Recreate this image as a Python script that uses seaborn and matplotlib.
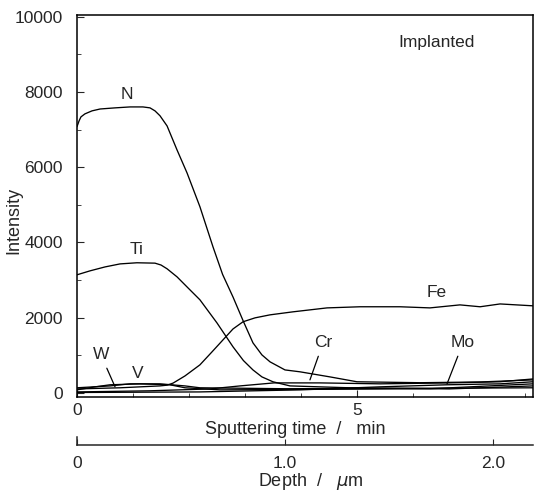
import matplotlib
matplotlib.use("Agg")
import matplotlib.pyplot as plt
from matplotlib.ticker import FixedLocator, NullFormatter
import numpy as np
import pandas as pd
import seaborn as sns

# Depth profile (depth in um, intensity in counts) for each element
n_depth = [0.0, 0.010, 0.019, 0.038, 0.072, 0.111, 0.183, 0.255, 0.317, 0.351, 0.375,
           0.399, 0.433, 0.481, 0.529, 0.591, 0.654, 0.700, 0.750, 0.800, 0.846, 0.889,
           0.928, 1.0, 1.072, 1.216, 1.346, 1.65, 1.94, 2.192]
n_int = [7080, 7235, 7340, 7420, 7500, 7550, 7580, 7605, 7605, 7580, 7500,
         7370, 7100, 6460, 5850, 4950, 3880, 3150, 2550, 1900, 1330, 1010,
         825, 610, 560, 425, 295, 270, 290, 345]

ti_depth = [0.0, 0.0625, 0.135, 0.207, 0.288, 0.375, 0.404, 0.433, 0.481, 0.534, 0.591,
            0.673, 0.750, 0.800, 0.846, 0.889, 0.942, 1.024, 1.31, 1.79, 2.192]
ti_int = [3140, 3245, 3350, 3430, 3460, 3450, 3400, 3300, 3085, 2790, 2475,
          1860, 1225, 860, 610, 425, 295, 185, 135, 105, 185]

fe_depth = [0.0, 0.207, 0.399, 0.433, 0.462, 0.519, 0.591, 0.649, 0.702, 0.750, 0.798,
            0.856, 0.928, 1.038, 1.202, 1.361, 1.553, 1.697, 1.841, 1.938, 2.034, 2.192]
fe_int = [105, 135, 185, 205, 260, 450, 745, 1090, 1410, 1700, 1890,
          1995, 2075, 2155, 2260, 2290, 2290, 2260, 2340, 2290, 2365, 2315]

w_depth = [0.0, 0.087, 0.159, 0.303, 0.447, 0.519, 0.688, 1.2, 1.7, 2.192]
w_int = [80, 160, 215, 240, 215, 135, 80, 95, 110, 240]

v_depth = [0.0, 0.159, 0.255, 0.399, 0.519, 0.591, 1.0, 1.5, 2.0, 2.192]
v_int = [135, 185, 240, 240, 185, 135, 110, 120, 130, 135]

cr_depth = [0.0, 0.351, 0.639, 0.784, 0.947, 1.168, 1.457, 1.793, 2.034, 2.192]
cr_int = [25, 55, 105, 185, 265, 265, 240, 265, 295, 370]

mo_depth = [0.0, 0.591, 1.072, 1.457, 1.779, 2.034, 2.192]
mo_int = [10, 25, 80, 160, 215, 240, 295]

series = {"N": (n_depth, n_int), "Ti": (ti_depth, ti_int), "Fe": (fe_depth, fe_int),
          "W": (w_depth, w_int), "V": (v_depth, v_int), "Cr": (cr_depth, cr_int),
          "Mo": (mo_depth, mo_int)}

# Sputtering time scale: minutes -> depth (um)
um_per_min = 0.2692
time_major = [0, 5]
depth_ticks = [0.0, 1.0, 2.0]
depth_labels = ["0", "1.0", "2.0"]

frames = [pd.DataFrame({"element": k, "depth": d, "intensity": i})
          for k, (d, i) in series.items()]
df = pd.concat(frames, ignore_index=True)

sns.set_style("ticks")
plt.rcParams["font.family"] = ["Liberation Sans", "DejaVu Sans"]
plt.rcParams["mathtext.fontset"] = "dejavusans"

W, H = 534, 491
fig = plt.figure(figsize=(W / 100, H / 100), dpi=100)
fig.patch.set_facecolor("white")

ax = fig.add_axes([77 / W, 1 - 397 / H, 456 / W, 382 / H])
sns.lineplot(data=df, x="depth", y="intensity", hue="element",
             palette={k: "black" for k in series}, estimator=None, sort=False,
             units="element", legend=False, linewidth=0.95, ax=ax)

xmax = 456 / 208
ax.set_xlim(0, xmax)
ax.set_ylim(-110, 10050)
for s in ax.spines.values():
    s.set_visible(True)
    s.set_linewidth(1.1)
    s.set_color("black")

ax.set_yticks([0, 2000, 4000, 6000, 8000, 10000])
ax.yaxis.set_minor_locator(FixedLocator([1000, 3000, 5000, 7000, 9000]))
ax.tick_params(axis="y", which="both", direction="in", pad=10, labelsize=12.5)
ax.tick_params(axis="y", which="major", length=5)
ax.tick_params(axis="y", which="minor", length=3)

ax.set_xticks([t * um_per_min for t in time_major])
ax.set_xticklabels([str(t) for t in time_major])
ax.xaxis.set_minor_locator(FixedLocator([t * um_per_min for t in range(1, 9) if t != 5]))
ax.xaxis.set_minor_formatter(NullFormatter())
ax.tick_params(axis="x", which="both", direction="in", pad=4, labelsize=12.5)
ax.tick_params(axis="x", which="major", length=5)
ax.tick_params(axis="x", which="minor", length=3)
ax.set_xlabel("")
ax.set_ylabel("")

# Curve labels
fs = 12.5
ax.text(0.240, 7930, "N", ha="center", va="center", fontsize=fs)
ax.text(0.288, 3800, "Ti", ha="center", va="center", fontsize=fs)
ax.text(1.731, 2660, "Fe", ha="center", va="center", fontsize=fs)
ax.text(0.293, 505, "V", ha="center", va="center", fontsize=fs)
ax.annotate("W", xy=(0.183, 160), xytext=(0.115, 1010), ha="center", va="center",
            fontsize=fs, arrowprops=dict(arrowstyle="-", lw=0.9, color="black",
                                         shrinkA=2, shrinkB=0))
ax.annotate("Cr", xy=(1.12, 346), xytext=(1.183, 1330), ha="center", va="center",
            fontsize=fs, arrowprops=dict(arrowstyle="-", lw=0.9, color="black",
                                         shrinkA=2, shrinkB=0))
ax.annotate("Mo", xy=(1.779, 240), xytext=(1.856, 1330), ha="center", va="center",
            fontsize=fs, arrowprops=dict(arrowstyle="-", lw=0.9, color="black",
                                         shrinkA=2, shrinkB=0))
ax.text(1.731, 9310, "Implanted", ha="center", va="center", fontsize=fs)

# Depth scale below the time axis
ax2 = fig.add_axes([77 / W, 1 - 445 / H, 456 / W, 8 / H])
ax2.set_xlim(0, xmax)
ax2.set_ylim(0, 1)
ax2.patch.set_visible(False)
for name in ("top", "right"):
    ax2.spines[name].set_visible(False)
ax2.spines["left"].set_visible(True)
ax2.spines["bottom"].set_visible(True)
ax2.spines["left"].set_linewidth(1.1)
ax2.spines["bottom"].set_linewidth(1.1)
ax2.set_yticks([])
ax2.set_xticks(depth_ticks)
ax2.set_xticklabels(depth_labels)
ax2.tick_params(axis="x", direction="in", length=4, pad=8, labelsize=12.5)

fig.text(14 / W, 1 - 220 / H, "Intensity", rotation=90, ha="center", va="center",
         fontsize=13)
fig.text(295 / W, 1 - 430 / H, "Sputtering time  /   min", ha="center", va="center",
         fontsize=13)
fig.text(311 / W, 1 - 482 / H, "Depth  /   $\\mu$m", ha="center", va="center",
         fontsize=13)

fig.savefig("out.png", dpi=100, facecolor="white")
